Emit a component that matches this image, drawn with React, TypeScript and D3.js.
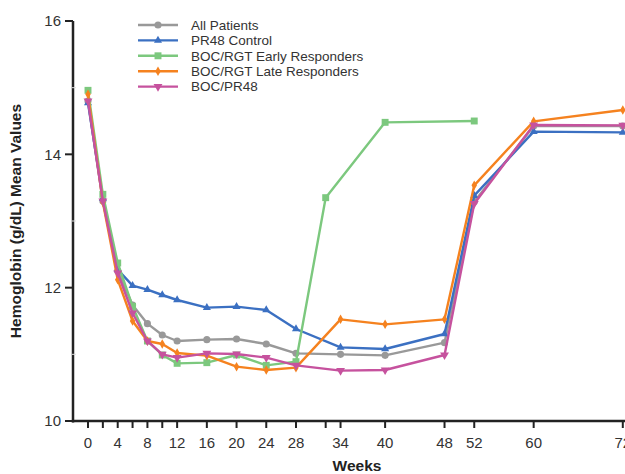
import React from "react";
import * as d3 from "d3";

const weeksMain = [0, 2, 4, 6, 8, 10, 12, 16, 20, 24, 28, 34, 40, 48, 52, 60, 72];
const weeksEarly = [0, 2, 4, 6, 8, 10, 12, 16, 20, 24, 28, 32, 40, 52];

const allPatients = [14.8, 13.3, 12.25, 11.74, 11.46, 11.29, 11.2, 11.22, 11.23, 11.155, 11.015, 11.0, 10.985, 11.175, 13.29, 14.425, 14.425];
const pr48Control = [14.77, 13.34, 12.27, 12.03, 11.97, 11.89, 11.815, 11.7, 11.715, 11.665, 11.38, 11.105, 11.08, 11.305, 13.38, 14.34, 14.33];
const earlyResp = [14.96, 13.4, 12.37, 11.72, 11.2, 10.99, 10.865, 10.875, 10.99, 10.835, 10.89, 13.35, 14.48, 14.5];
const lateResp = [14.9, 13.28, 12.12, 11.5, 11.2, 11.155, 11.02, 10.98, 10.815, 10.765, 10.8, 11.525, 11.45, 11.525, 13.535, 14.495, 14.665];
const bocPr48 = [14.8, 13.3, 12.22, 11.62, 11.2, 11.0, 10.95, 11.015, 11.005, 10.95, 10.835, 10.755, 10.765, 10.99, 13.26, 14.44, 14.435];

const seriesNames = ["All Patients", "PR48 Control", "BOC/RGT Early Responders", "BOC/RGT Late Responders", "BOC/PR48"];
const seriesColors = ["#999999", "#3b70c2", "#7cc87e", "#f5821f", "#c6529e"];
const seriesMarkers = ["circle", "triangle", "square", "diamond", "triangleDown"];

const xTicks = [0, 2, 4, 6, 8, 10, 12, 16, 20, 24, 28, 32, 34, 40, 48, 52, 60, 72];
const xLabels = [0, 4, 8, 12, 16, 20, 24, 28, 34, 40, 48, 52, 60, 72];
const yTicks = [10, 12, 14, 16];
const yMinor = [11, 13, 15];

const W = 625;
const H = 474;

const x = d3.scaleLinear().domain([0, 72]).range([88, 622.8]);
const y = d3.scaleLinear().domain([10, 16]).range([421, 21]);

const symbolMap: Record<string, any> = {
  circle: d3.symbolCircle,
  triangle: d3.symbolTriangle,
  square: d3.symbolSquare,
  diamond: d3.symbolDiamond,
  triangleDown: d3.symbolTriangle,
};
const symbolSize: Record<string, number> = {
  circle: 40,
  triangle: 28,
  square: 48,
  diamond: 26,
  triangleDown: 34,
};

function Marker({ kind, cx, cy, color }: { kind: string; cx: number; cy: number; color: string }) {
  const p = d3.symbol().type(symbolMap[kind]).size(symbolSize[kind])() || "";
  const rot = kind === "triangleDown" ? 180 : 0;
  return <path d={p} transform={`translate(${cx},${cy}) rotate(${rot})`} fill={color} />;
}

export default function App() {
  const data = [
    { w: weeksMain, v: allPatients },
    { w: weeksMain, v: pr48Control },
    { w: weeksEarly, v: earlyResp },
    { w: weeksMain, v: lateResp },
    { w: weeksMain, v: bocPr48 },
  ];
  const line = d3
    .line<[number, number]>()
    .x((d) => x(d[0]))
    .y((d) => y(d[1]));
  const font = "Liberation Sans, Arial, sans-serif";
  const axisX = 73;
  const axisY = 421;
  const order = [0, 1, 2, 3, 4];
  return (
    <svg width={W} height={H} style={{ position: "absolute", left: 0, top: 0 }} fontFamily={font}>
      <rect width={W} height={H} fill="#ffffff" />
      {/* axes */}
      <line x1={axisX} x2={axisX} y1={y(16)} y2={axisY + 1.5} stroke="#222" strokeWidth={2.5} />
      <line x1={axisX - 1.2} x2={W} y1={axisY} y2={axisY} stroke="#222" strokeWidth={2.5} />
      {yTicks.map((t) => (
        <g key={"yt" + t}>
          <line x1={axisX - 8} x2={axisX} y1={y(t)} y2={y(t)} stroke="#222" strokeWidth={2} />
          <text x={axisX - 12} y={y(t)} dy="0.36em" textAnchor="end" fontSize={15} fill="#333">
            {t}
          </text>
        </g>
      ))}
      {yMinor.map((t) => (
        <line key={"ym" + t} x1={axisX - 1} x2={axisX + 3} y1={y(t)} y2={y(t)} stroke="#ddd" strokeWidth={1} />
      ))}
      {xTicks.map((t) => (
        <line key={"xt" + t} x1={x(t)} x2={x(t)} y1={axisY} y2={axisY + 7} stroke="#222" strokeWidth={2} />
      ))}
      {xLabels.map((t) => (
        <text key={"xl" + t} x={x(t)} y={axisY + 27} textAnchor="middle" fontSize={15} fill="#333">
          {t}
        </text>
      ))}
      <text x={357} y={471} textAnchor="middle" fontSize={15.5} fontWeight="bold" fill="#222">
        Weeks
      </text>
      <text
        transform={`translate(21,${221}) rotate(-90)`}
        textAnchor="middle"
        fontSize={15.5}
        fontWeight="bold"
        fill="#222"
      >
        Hemoglobin (g/dL) Mean Values
      </text>
      {/* series */}
      {order.map((i) => {
        const pts: [number, number][] = data[i].w.map((w, j) => [w, data[i].v[j]]);
        return (
          <g key={"s" + i}>
            <path d={line(pts) || ""} fill="none" stroke={seriesColors[i]} strokeWidth={2.4} strokeLinejoin="round" />
            {pts.map((p, j) => (
              <Marker key={j} kind={seriesMarkers[i]} cx={x(p[0])} cy={y(p[1])} color={seriesColors[i]} />
            ))}
          </g>
        );
      })}
      {/* legend */}
      {seriesNames.map((n, i) => {
        const ly = 25 + i * 15.4;
        return (
          <g key={"lg" + i}>
            <line x1={138} x2={178} y1={ly} y2={ly} stroke={seriesColors[i]} strokeWidth={2.4} />
            <Marker kind={seriesMarkers[i]} cx={158} cy={ly} color={seriesColors[i]} />
            <text x={191} y={ly} dy="0.36em" fontSize={13.5} fill="#333">
              {n}
            </text>
          </g>
        );
      })}
    </svg>
  );
}
